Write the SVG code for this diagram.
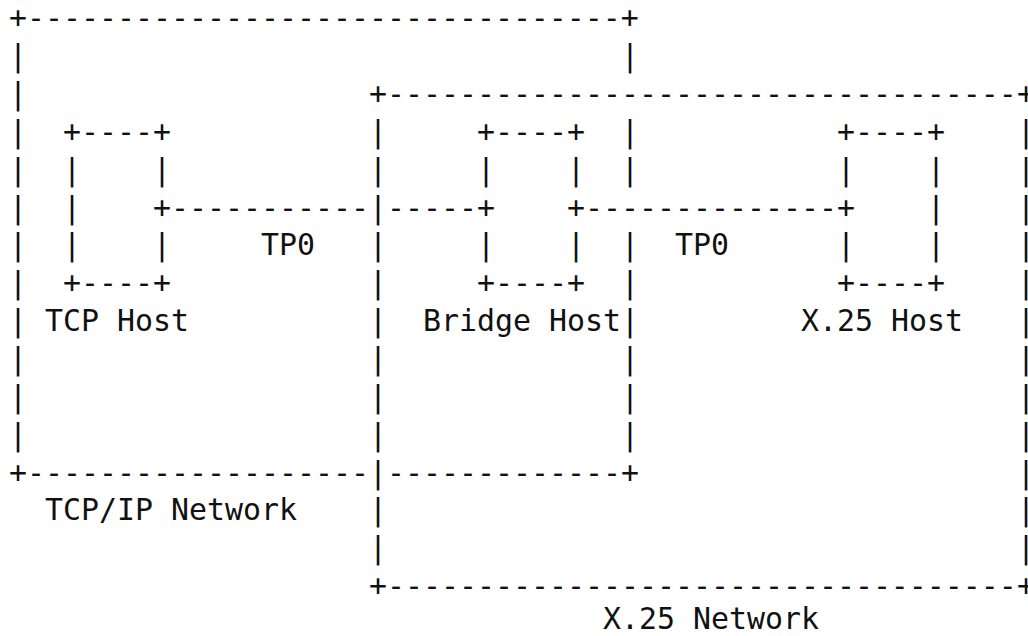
<svg xmlns="http://www.w3.org/2000/svg" width="1028" height="636" viewBox="0 0 1028 636">
<style>
text{font-family:"DejaVu Sans Mono","Liberation Mono",monospace;font-size:29.9px;fill:#111;white-space:pre}
.r{letter-spacing:-9px}
</style>
<rect width="1028" height="636" fill="#fff"/>
<g id="tcp-ip-network">
<text x="9" y="28.3">+---------------------------------+</text>
<text x="9" y="66.15">|</text><text x="621" y="66.15">|</text>
<text x="9" y="104">|</text>
<text x="9" y="141.85">|</text><text x="621" y="141.85">|</text>
<text x="9" y="179.7">|</text><text x="621" y="179.7">|</text>
<text x="9" y="217.55">|</text>
<text x="9" y="255.4">|</text><text x="621" y="255.4">|</text>
<text x="9" y="293.25">|</text><text x="621" y="293.25">|</text>
<text x="9" y="331.1">|</text><text x="621" y="331.1">|</text>
<text x="9" y="368.95">|</text><text x="621" y="368.95">|</text>
<text x="9" y="406.8">|</text><text x="621" y="406.8">|</text>
<text x="9" y="444.65">|</text><text x="621" y="444.65">|</text>
<text x="9" y="482.5">+-------------------</text><text x="387" y="482.5">-------------+</text>
<text x="45" y="520.35">TCP/IP Network</text>
</g>
<g id="x25-network">
<text x="369" y="104">+-----------------------------------</text><text class="r" x="1017" y="104">+</text>
<text x="369" y="141.85">|</text><text class="r" x="1017" y="141.85">|</text>
<text x="369" y="179.7">|</text><text class="r" x="1017" y="179.7">|</text>
<text x="369" y="217.55">|</text><text class="r" x="1017" y="217.55">|</text>
<text x="369" y="255.4">|</text><text class="r" x="1017" y="255.4">|</text>
<text x="369" y="293.25">|</text><text class="r" x="1017" y="293.25">|</text>
<text x="369" y="331.1">|</text><text class="r" x="1017" y="331.1">|</text>
<text x="369" y="368.95">|</text><text class="r" x="1017" y="368.95">|</text>
<text x="369" y="406.8">|</text><text class="r" x="1017" y="406.8">|</text>
<text x="369" y="444.65">|</text><text class="r" x="1017" y="444.65">|</text>
<text x="369" y="482.5">|</text><text class="r" x="1017" y="482.5">|</text>
<text x="369" y="520.35">|</text><text class="r" x="1017" y="520.35">|</text>
<text x="369" y="558.2">|</text><text class="r" x="1017" y="558.2">|</text>
<text x="369" y="596.05">+-----------------------------------</text><text class="r" x="1017" y="596.05">+</text>
<text x="603" y="629">X.25 Network</text>
</g>
<g id="tcp-host">
<text x="63" y="141.85">+----+</text>
<text x="63" y="179.7">|</text><text x="153" y="179.7">|</text>
<text x="63" y="217.55">|</text><text x="153" y="217.55">+</text>
<text x="63" y="255.4">|</text><text x="153" y="255.4">|</text>
<text x="63" y="293.25">+----+</text>
<text x="45" y="331.1">TCP Host</text>
</g>
<g id="bridge-host">
<text x="477" y="141.85">+----+</text>
<text x="477" y="179.7">|</text><text x="567" y="179.7">|</text>
<text x="477" y="217.55">+</text><text x="567" y="217.55">+</text>
<text x="477" y="255.4">|</text><text x="567" y="255.4">|</text>
<text x="477" y="293.25">+----+</text>
<text x="423" y="331.1">Bridge Host</text>
</g>
<g id="x25-host">
<text x="837" y="141.85">+----+</text>
<text x="837" y="179.7">|</text><text x="927" y="179.7">|</text>
<text x="837" y="217.55">+</text><text x="927" y="217.55">|</text>
<text x="837" y="255.4">|</text><text x="927" y="255.4">|</text>
<text x="837" y="293.25">+----+</text>
<text x="801" y="331.1">X.25 Host</text>
</g>
<g id="connectors">
<text x="171" y="217.55">-----------</text>
<text x="387" y="217.55">-----</text>
<text x="585" y="217.55">--------------</text>
<text x="261" y="255.4">TP0</text>
<text x="675" y="255.4">TP0</text>
</g>
</svg>
